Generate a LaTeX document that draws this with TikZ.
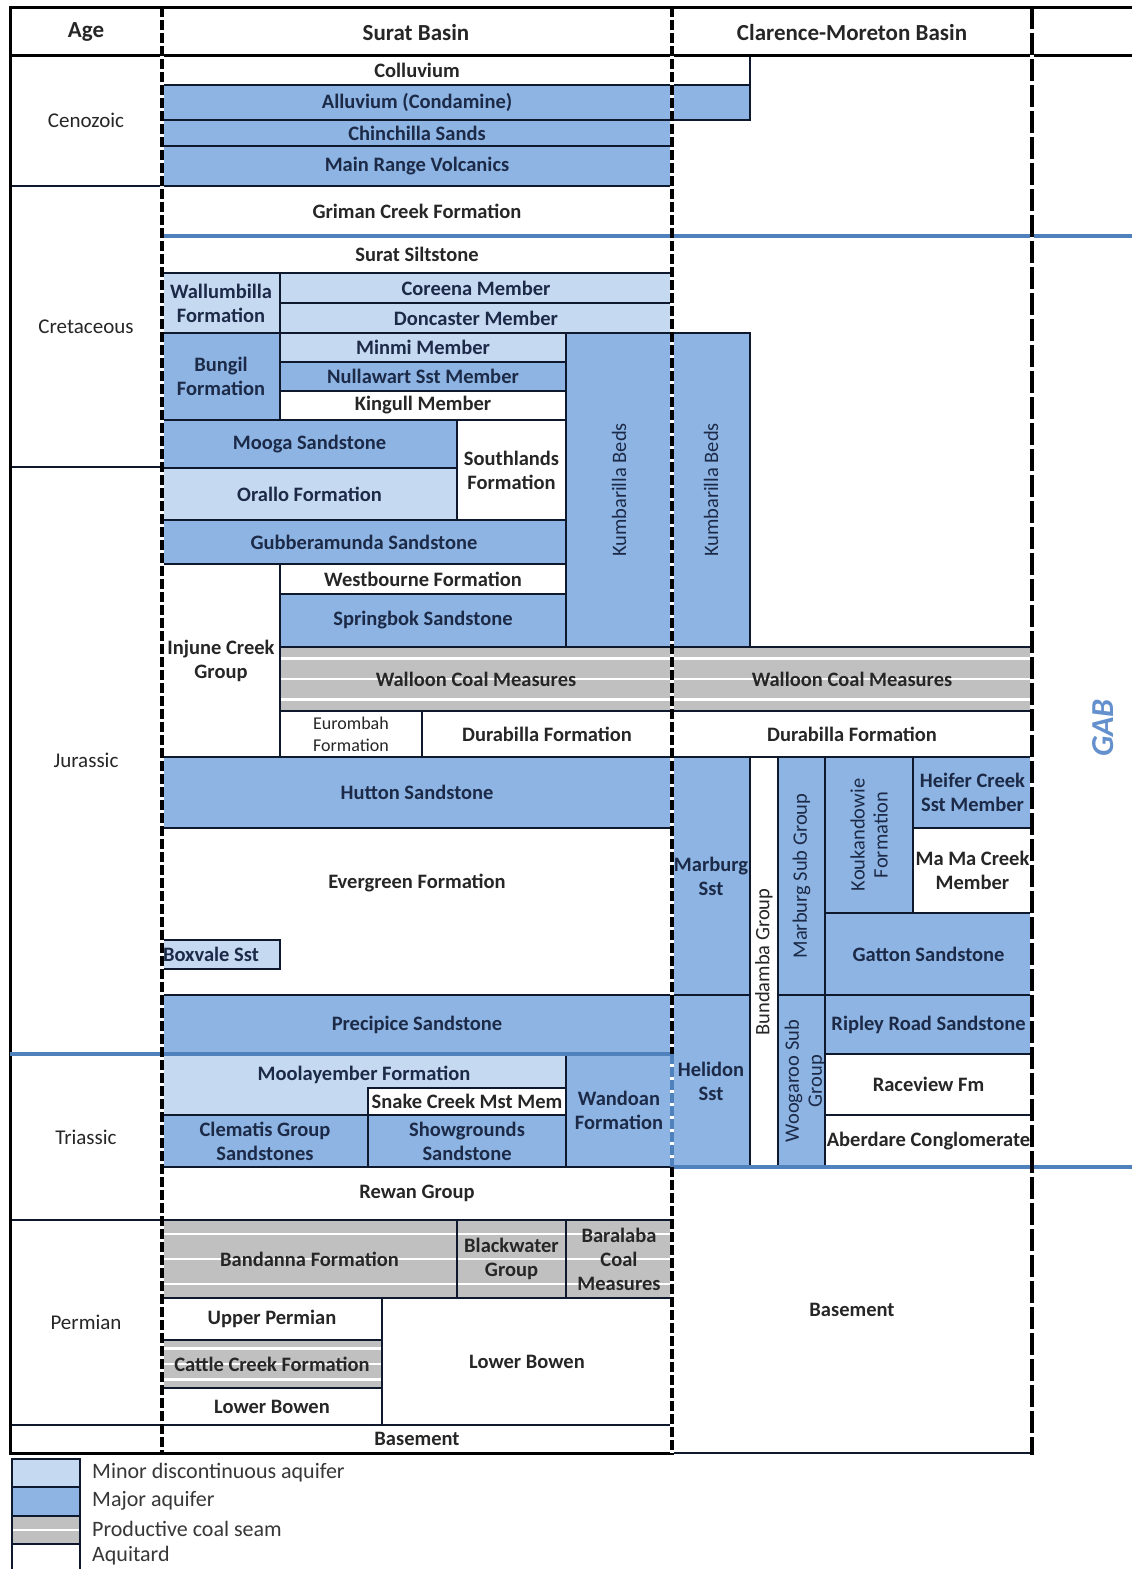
\documentclass[tikz,border=0pt]{standalone}
\usepackage{fontspec}
\setmainfont{Carlito}
\pgfdeclarelayer{bg}
\pgfsetlayers{bg,main}
\definecolor{majc}{RGB}{141,180,226}
\definecolor{minc}{RGB}{197,217,241}
\definecolor{coalc}{RGB}{192,192,192}
\definecolor{gabc}{RGB}{79,129,189}
\definecolor{gabt}{RGB}{100,145,205}
\definecolor{bordc}{RGB}{15,25,45}
\definecolor{navytxt}{RGB}{28,42,72}
\definecolor{graytxt}{RGB}{38,38,38}
\definecolor{legtxt}{RGB}{55,55,55}
\tikzset{
  maj/.style={fill=majc}, mnr/.style={fill=minc}, aqt/.style={fill=white}, coal/.style={fill=coalc},
  txtmaj/.style={text=navytxt}, txtmnr/.style={text=navytxt}, txtaqt/.style={text=graytxt}, txtcoal/.style={text=graytxt},
  txt/.style={font=\fontsize{20.5}{24}\selectfont\bfseries, align=center, inner sep=0pt},
  vtxt/.style={font=\fontsize{20.5}{23}\selectfont\mdseries},
  agetxt/.style={font=\fontsize{21}{24}\selectfont\mdseries},
  smalltxt/.style={font=\fontsize{18}{22}\selectfont\mdseries},
  hdr/.style={font=\fontsize{23}{26}\selectfont\bfseries, text=graytxt, inner sep=0pt},
  legend/.style={font=\fontsize{22}{24}\selectfont, text=legtxt, anchor=west, inner sep=0pt},
  cellborder/.style={draw=bordc, line width=1.4pt},
  thickb/.style={draw=black, line width=3pt},
  sepwhite/.style={draw=white, line width=4pt},
  sepline/.style={draw=black, line width=4pt, dash pattern=on 10pt off 3pt},
  sepline2/.style={draw=black, line width=4pt, dash pattern=on 22pt off 4pt},
  gabline/.style={draw=gabc, line width=4.5pt},
}
\newcommand\cellx[8]{%
  \begin{pgfonlayer}{bg}\fill[#2] (#3,#4) rectangle (#5,#6);\end{pgfonlayer}
  \draw[cellborder] (#3,#4) rectangle (#5,#6);
  \node[txt,txt#2,#8] (#1) at ({(#3+#5)/2},{(#4+#6)/2}) {#7};}
\newcommand\cell[7]{\cellx{#1}{#2}{#3}{#4}{#5}{#6}{#7}{}}
\newcommand\stripes[4]{%
  \begin{pgfonlayer}{bg}
  \foreach \f in {0.18,0.5,0.82}{\draw[white,line width=2.5pt] (#1,{#2+\f*(#4-#2)}) -- (#3,{#2+\f*(#4-#2)});}
  \end{pgfonlayer}}
\begin{document}
\begin{tikzpicture}[x=1pt,y=-1pt]
\useasboundingbox (0,0) rectangle (1132,1569);
\begin{pgfonlayer}{bg}\fill[white] (0,0) rectangle (1132,1569);\end{pgfonlayer}
% ---------- Age column ----------
\cellx{aCen}{aqt}{10}{55}{162}{186}{Cenozoic}{agetxt}
\cellx{aCre}{aqt}{10}{186}{162}{467}{Cretaceous}{agetxt}
\cellx{aJur}{aqt}{10}{467}{162}{1054}{Jurassic}{agetxt}
\cellx{aTri}{aqt}{10}{1054}{162}{1220}{Triassic}{agetxt}
\cellx{aPer}{aqt}{10}{1220}{162}{1425}{Permian}{agetxt}
\cell{aBas}{aqt}{10}{1425}{162}{1453}{}
% ---------- Surat Basin ----------
\cell{coll}{aqt}{162}{55}{672}{85}{Colluvium}
\cell{collb}{aqt}{672}{55}{750}{85}{}
\cell{allu}{maj}{162}{85}{672}{120}{Alluvium (Condamine)}
\cell{allub}{maj}{672}{85}{750}{120}{}
\cell{chin}{maj}{162}{120}{672}{146}{Chinchilla Sands}
\cell{mrv}{maj}{162}{146}{672}{186}{Main Range Volcanics}
\cell{grim}{aqt}{162}{186}{672}{236}{Griman Creek Formation}
\cell{surs}{aqt}{162}{236}{672}{273}{Surat Siltstone}
\cell{wall}{mnr}{162}{273}{280}{333}{Wallumbilla\\Formation}
\cell{core}{mnr}{280}{273}{672}{303}{Coreena Member}
\cell{donc}{mnr}{280}{303}{672}{333}{Doncaster Member}
\cell{bung}{maj}{162}{333}{280}{420}{Bungil\\Formation}
\cell{minm}{mnr}{280}{333}{566}{362}{Minmi Member}
\cell{null}{maj}{280}{362}{566}{391}{Nullawart Sst Member}
\cell{king}{aqt}{280}{391}{566}{420}{Kingull Member}
\cellx{kumA}{maj}{566}{333}{672}{647}{Kumbarilla Beds}{rotate=90,vtxt}
\cellx{kumB}{maj}{672}{333}{750}{647}{Kumbarilla Beds}{rotate=90,vtxt}
\cell{moog}{maj}{162}{420}{457}{468}{Mooga Sandstone}
\cell{sout}{aqt}{457}{420}{566}{520}{Southlands\\Formation}
\cell{oral}{mnr}{162}{468}{457}{520}{Orallo Formation}
\cell{gubb}{maj}{162}{520}{566}{564}{Gubberamunda Sandstone}
\cell{inju}{aqt}{162}{564}{280}{757}{Injune Creek\\Group}
\cell{west}{aqt}{280}{564}{566}{594}{Westbourne Formation}
\cell{spri}{maj}{280}{594}{566}{647}{Springbok Sandstone}
\cell{walA}{coal}{280}{647}{672}{711}{Walloon Coal Measures}
\stripes{280}{647}{672}{711}
\cell{walB}{coal}{672}{647}{1032}{711}{Walloon Coal Measures}
\stripes{672}{647}{1032}{711}
\cellx{euro}{aqt}{280}{711}{422}{757}{Eurombah\\Formation}{smalltxt}
\cell{durA}{aqt}{422}{711}{672}{757}{Durabilla Formation}
\cell{durB}{aqt}{672}{711}{1032}{757}{Durabilla Formation}
\cell{hutt}{maj}{162}{757}{672}{828}{Hutton Sandstone}
\cellx{ever}{aqt}{162}{828}{672}{995}{Evergreen Formation}{yshift=28pt}
\cellx{boxv}{mnr}{162}{940}{280}{969}{Boxvale Sst}{xshift=-10pt}
\cell{prec}{maj}{162}{995}{672}{1054}{Precipice Sandstone}
\cellx{mool}{mnr}{162}{1054}{566}{1115}{Moolayember Formation}{yshift=10pt}
\cell{snak}{aqt}{368}{1088}{566}{1115}{Snake Creek Mst Mem}
\cell{wand}{maj}{566}{1054}{672}{1167}{Wandoan\\Formation}
\cell{clem}{maj}{162}{1115}{368}{1167}{Clematis Group\\Sandstones}
\cell{show}{maj}{368}{1115}{566}{1167}{Showgrounds\\Sandstone}
\cell{rewa}{aqt}{162}{1167}{672}{1220}{Rewan Group}
\cell{band}{coal}{162}{1220}{457}{1298}{Bandanna Formation}
\stripes{162}{1220}{457}{1298}
\cell{blac}{coal}{457}{1220}{566}{1298}{Blackwater\\Group}
\stripes{457}{1220}{566}{1298}
\cell{bara}{coal}{566}{1220}{672}{1298}{Baralaba\\Coal\\Measures}
\stripes{566}{1220}{672}{1298}
\cell{uppe}{aqt}{162}{1298}{382}{1340}{Upper Permian}
\cell{catt}{coal}{162}{1340}{382}{1388}{Cattle Creek Formation}
\stripes{162}{1340}{382}{1388}
\cell{lowA}{aqt}{162}{1388}{382}{1425}{Lower Bowen}
\cell{lowB}{aqt}{382}{1298}{672}{1425}{Lower Bowen}
\cell{base}{aqt}{162}{1425}{672}{1453}{Basement}
% ---------- Clarence-Moreton Basin ----------
\cell{marb}{maj}{672}{757}{750}{995}{Marburg\\Sst}
\cell{heli}{maj}{672}{995}{750}{1167}{Helidon\\Sst}
\cellx{bund}{aqt}{750}{757}{778}{1167}{Bundamba Group}{rotate=90,vtxt}
\cellx{msub}{maj}{778}{757}{825}{995}{Marburg Sub Group}{rotate=90,vtxt}
\begin{pgfonlayer}{bg}\fill[maj] (778,995) rectangle (825,1167);\end{pgfonlayer}
\draw[cellborder] (778,995) rectangle (825,1167);
\begin{scope}
  \clip (778,995) rectangle (825,1167);
  \node[txt,txtmaj,rotate=90,vtxt] (woog) at (805,1081) {Woogaroo Sub\\Group};
\end{scope}
\cellx{kouk}{maj}{825}{757}{913}{913}{Koukandowie\\Formation}{rotate=90,vtxt}
\cell{heif}{maj}{913}{757}{1032}{828}{Heifer Creek\\Sst Member}
\cell{mama}{aqt}{913}{828}{1032}{913}{Ma Ma Creek\\Member}
\cell{gatt}{maj}{825}{913}{1032}{995}{Gatton Sandstone}
\cell{ripl}{maj}{825}{995}{1032}{1054}{Ripley Road Sandstone}
\cell{race}{aqt}{825}{1054}{1032}{1115}{Raceview Fm}
\cell{aber}{aqt}{825}{1115}{1032}{1167}{Aberdare Conglomerate}
\cell{cbas}{aqt}{672}{1167}{1032}{1453}{Basement}
% ---------- header ----------
\node[hdr] (hage) at (86,32) {Age};
\node[hdr] (hsur) at (416,33) {Surat Basin};
\node[hdr] (hcla) at (852,33) {Clarence-Moreton Basin};
\node[font=\fontsize{32}{34}\selectfont\bfseries\itshape, text=gabt, rotate=90, inner sep=0pt] (gab) at (1103,728) {GAB};
% ---------- frame ----------
\draw[thickb] (10,7) -- (1132,7);
\draw[thickb] (10,55) -- (1132,55);
\draw[thickb] (10,5.5) -- (10,1455);
\draw[thickb] (10,1453) -- (672,1453);
% ---------- GAB boundary ----------
\draw[gabline] (162,236) -- (1132,236);
\draw[gabline] (10,1054) -- (672,1054);
\draw[gabline] (672,1167) -- (1132,1167);
% ---------- dashed column separators ----------
\draw[sepwhite] (162,7) -- (162,1455);
\draw[sepline] (162,7) -- (162,1455);
\draw[sepwhite] (672,7) -- (672,1455);
\draw[sepline] (672,7) -- (672,1054);
\draw[draw=gabc, line width=4pt, dash pattern=on 10pt off 3pt] (672,1054) -- (672,1167);
\draw[sepline] (672,1167) -- (672,1455);
\draw[sepwhite] (1032,7) -- (1032,1455);
\draw[sepline2] (1032,7) -- (1032,1455);
% ---------- legend ----------
\cell{lg1}{mnr}{12}{1459}{80}{1487}{}
\cell{lg2}{maj}{12}{1487}{80}{1516}{}
\cell{lg3}{coal}{12}{1516}{80}{1544}{}
\begin{pgfonlayer}{bg}\draw[white,line width=2.5pt] (12,1530) -- (80,1530);\end{pgfonlayer}
\draw[cellborder] (12,1569) -- (12,1544) -- (80,1544) -- (80,1569);
\node[legend] (l1) at (92,1473) {Minor discontinuous aquifer};
\node[legend] (l2) at (92,1501) {Major aquifer};
\node[legend] (l3) at (92,1529) {Productive coal seam};
\node[legend] (l4) at (92,1556) {Aquitard};
\end{tikzpicture}
\end{document}
